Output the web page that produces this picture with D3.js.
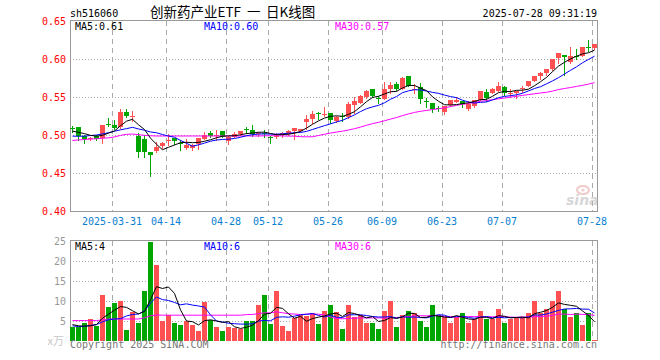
<!DOCTYPE html>
<html><head><meta charset="utf-8">
<script src="https://cdn.jsdelivr.net/npm/d3@7"></script>
<style>body{margin:0;background:#fff}svg{display:block}</style>
</head><body><svg id="c" width="660" height="360"></svg>
<script>
// ---------- data ----------
const dates = ["03-20","03-21","03-24","03-25","03-26","03-27","03-28","03-31",
"04-01","04-02","04-03","04-07","04-08","04-09","04-10","04-11","04-14","04-15","04-16","04-17","04-18","04-21","04-22","04-23","04-24","04-25","04-28","04-29","04-30",
"05-06","05-07","05-08","05-09","05-12","05-13","05-14","05-15","05-16","05-19","05-20","05-21","05-22","05-23","05-26","05-27","05-28","05-29","05-30",
"06-03","06-04","06-05","06-06","06-09","06-10","06-11","06-12","06-13","06-16","06-17","06-18","06-19","06-20","06-23","06-24","06-25","06-26","06-27","06-30",
"07-01","07-02","07-03","07-04","07-07","07-08","07-09","07-10","07-11","07-14","07-15","07-16","07-17","07-18","07-21","07-22","07-23","07-24","07-25","07-28"];
const open = [0.5092,0.5101,0.4987,0.4950,0.4987,0.4967,0.5145,0.5138,0.5101,0.5303,
0.5250,0.4993,0.4943,0.4776,0.4789,0.4855,0.4930,0.4957,0.4897,0.4833,
0.4829,0.4879,0.4951,0.5030,0.4987,0.5049,0.4925,0.4978,0.5013,0.5080,
0.5066,0.5020,0.5028,0.4978,0.4986,0.5018,0.5009,0.5057,0.5057,0.5167,
0.5211,0.5285,0.5263,0.5283,0.5188,0.5245,0.5243,0.5395,0.5425,0.5504,
0.5605,0.5490,0.5474,0.5601,0.5667,0.5605,0.5776,0.5600,0.5628,0.5445,
0.5421,0.5358,0.5307,0.5391,0.5437,0.5447,0.5338,0.5382,0.5461,0.5563,
0.5557,0.5579,0.5638,0.5551,0.5549,0.5613,0.5645,0.5711,0.5776,0.5820,
0.5864,0.6013,0.6053,0.5964,0.6046,0.6039,0.6158,0.6141];
const high = [0.5118,0.5105,0.4995,0.4975,0.5000,0.5135,0.5224,0.5191,0.5342,0.5342,
0.5320,0.5022,0.4996,0.4780,0.4914,0.4905,0.5011,0.4962,0.4934,0.4947,
0.4880,0.4962,0.5033,0.5059,0.5066,0.5055,0.4985,0.5043,0.5055,0.5101,
0.5132,0.5043,0.5066,0.4985,0.5030,0.5043,0.5060,0.5095,0.5085,0.5263,
0.5312,0.5307,0.5372,0.5293,0.5250,0.5293,0.5438,0.5496,0.5520,0.5590,
0.5610,0.5513,0.5693,0.5701,0.5691,0.5767,0.5780,0.5671,0.5678,0.5483,
0.5425,0.5382,0.5382,0.5465,0.5504,0.5450,0.5451,0.5465,0.5585,0.5609,
0.5615,0.5700,0.5645,0.5609,0.5585,0.5649,0.5715,0.5780,0.5825,0.5870,
0.6000,0.6080,0.6055,0.6162,0.6128,0.6160,0.6250,0.6200];
const low = [0.5043,0.4934,0.4901,0.4940,0.4940,0.4901,0.5118,0.5080,0.5095,0.5233,
0.5184,0.4714,0.4714,0.4467,0.4780,0.4825,0.4868,0.4882,0.4803,0.4822,
0.4809,0.4816,0.4945,0.4970,0.4934,0.4970,0.4882,0.4972,0.5005,0.5030,
0.4987,0.4991,0.4978,0.4899,0.4957,0.4978,0.5000,0.4943,0.5050,0.5075,
0.5162,0.5211,0.5255,0.5154,0.5171,0.5188,0.5228,0.5286,0.5420,0.5483,
0.5504,0.5425,0.5470,0.5557,0.5595,0.5600,0.5640,0.5559,0.5425,0.5372,
0.5303,0.5316,0.5276,0.5385,0.5432,0.5364,0.5330,0.5364,0.5455,0.5443,
0.5550,0.5575,0.5522,0.5504,0.5483,0.5570,0.5640,0.5705,0.5733,0.5786,
0.5860,0.5951,0.5789,0.5951,0.5996,0.6033,0.6109,0.6135];
const close = [0.5084,0.4987,0.4947,0.4958,0.4951,0.5132,0.5136,0.5088,0.5303,0.5250,
0.5256,0.4776,0.4776,0.4737,0.4842,0.4899,0.4938,0.4925,0.4891,0.4868,
0.4872,0.4957,0.5000,0.4991,0.4995,0.4978,0.4978,0.5013,0.5049,0.5074,
0.5017,0.5026,0.5022,0.4961,0.4992,0.5024,0.5053,0.5088,0.5079,0.5211,
0.5272,0.5280,0.5270,0.5197,0.5243,0.5238,0.5408,0.5451,0.5513,0.5583,
0.5517,0.5484,0.5605,0.5658,0.5601,0.5750,0.5645,0.5605,0.5480,0.5440,
0.5342,0.5353,0.5378,0.5461,0.5467,0.5408,0.5408,0.5461,0.5579,0.5491,
0.5609,0.5645,0.5549,0.5557,0.5579,0.5620,0.5711,0.5776,0.5820,0.5864,
0.5996,0.6075,0.6030,0.6039,0.6040,0.6154,0.6150,0.6197];
const volume = [3.45,3.5,4.45,5.45,3.7,11.4,8.6,9.4,9.95,2.7,
7.2,4.6,12.45,24.7,18.95,4.95,6.45,4.4,4.1,5.1,
4.1,2.4,9.7,5.2,3.6,2.4,3.4,3.25,3.05,5.1,
4.95,9.1,11.4,4.15,12.45,3.65,2.4,5.85,6.45,6.3,
7.05,4.15,7.4,8.9,7.3,2.9,9.1,6.1,6.4,4.4,
4.6,2.9,7.4,9.95,3.4,6.4,7.6,7.1,4.9,3.6,
8.9,6.6,5.9,4.4,5.9,6.9,4.4,5.4,7.4,5.4,
5.4,8.1,4.6,5.4,5.9,5.9,7.1,9.9,7.1,8.1,
9.9,12.6,8.1,5.9,6.9,4.1,6.9,0.35];
// moving-average values before a full window is available
const priceMa5Lead = [0.5050,0.5035,0.5018,0.4995];
const priceMa10Lead = [0.4985,0.4983,0.4985,0.4993,0.5000,0.5015,0.5030,0.5050,0.5068];
const priceMa30Lead = [0.4928,0.4935,0.4940,0.4947,0.4950,0.4958,0.4962,0.4975,0.4995,0.5009,
0.5012,0.5005,0.4995,0.4990,0.4987,0.4987,0.4987,0.4987,0.4987,0.4987,
0.4987,0.4987,0.4987,0.4987,0.4987,0.4987,0.4987,0.4987,0.4987];
const volMa5Lead = [4.1,3.8,3.7,3.8];
const volMa10Lead = [3.8,3.6,3.7,3.9,4.1,4.8,5.3,5.5,5.6];
const volMa30Lead = [5.1,5.1,5.1,5.1,5.1,5.3,5.5,5.5,5.5,5.5,
5.5,5.5,5.8,6.3,6.5,6.45,6.45,6.45,6.45,6.45,
6.45,6.45,6.45,6.45,6.45,6.45,6.45,6.45,6.45];
const priceTicks = [0.40,0.45,0.50,0.55,0.60,0.65];
const priceTickLabels = ["0.40","0.45","0.50","0.55","0.60","0.65"];
const volTicks = [5,10,15,20,25];
const volTickLabels = ["5","10","15","20","25"];
const dateTicks = ["03-31","04-14","04-28","05-12","05-26","06-09","06-23","07-07","07-28"];
const dateTickLabels = ["2025-03-31","04-14","04-28","05-12","05-26","06-09","06-23","07-07","07-28"];
const symbol = "sh516060";
const titleParts = ["创新药产业ETF", "一", "日K线图"];
const stamp = "2025-07-28 09:31:19";
const priceLegend = ["MA5:0.61","MA10:0.60","MA30:0.57"];
const volLegend = ["MA5:4","MA10:6","MA30:6"];

// ---------- helpers ----------
function movingAvg(arr, n, lead){
  return arr.map((v,i)=> i < n-1 ? lead[i] : d3.mean(arr.slice(i-n+1, i+1)));
}
const RED="#ff5151", GREEN="#00a600", BLUE="#0000ff", MAG="#ff00ff", GRID="#aaaaaa", FRAME="#999999";
const MONO="'DejaVu Sans Mono', monospace";

const svg = d3.select("#c");
const L=70, R=597;
const x = d3.scaleBand().domain(dates).range([70, 70+6*dates.length-1]).paddingInner(1/6).paddingOuter(0);
const cx = d => Math.round(x(d)) + 2.5;
const y = d3.scaleLinear().domain([0.40,0.65]).range([211,21]);
const yv = d3.scaleLinear().domain([0,25]).range([341,241]);

// ---------- grid ----------
const g = svg.append("g").attr("shape-rendering","crispEdges");
g.selectAll(".hg").data(priceTicks.slice(1,-1)).join("line")
  .attr("x1",L).attr("x2",R).attr("y1",d=>Math.round(y(d))+0.5).attr("y2",d=>Math.round(y(d))+0.5)
  .attr("stroke",GRID).attr("stroke-dasharray","1,2");
g.selectAll(".hv").data(volTicks.slice(0,-1)).join("line")
  .attr("x1",L).attr("x2",R).attr("y1",d=>Math.round(yv(d))+0.5).attr("y2",d=>Math.round(yv(d))+0.5)
  .attr("stroke",GRID).attr("stroke-dasharray","1,2");
dateTicks.forEach(d=>{
  const xx = Math.round(x(d))+0.5;
  g.append("line").attr("x1",xx).attr("x2",xx).attr("y1",21).attr("y2",211).attr("stroke",GRID).attr("stroke-dasharray","5,4");
  g.append("line").attr("x1",xx).attr("x2",xx).attr("y1",241).attr("y2",341).attr("stroke",GRID).attr("stroke-dasharray","5,4");
});
// frames
g.append("path").attr("d",`M${L+0.5},20.5H${R+0.5}V211.5H${L+0.5}Z`).attr("fill","none").attr("stroke",FRAME);
g.append("path").attr("d",`M${L+0.5},341V240.5H${R+0.5}V341`).attr("fill","none").attr("stroke",FRAME);

// ---------- candles ----------
const idx = d3.range(dates.length);
const col = i => close[i] >= open[i] ? RED : GREEN;
const cg = svg.append("g").attr("shape-rendering","crispEdges");
cg.selectAll(".wick").data(idx).join("line")
  .attr("x1",i=>cx(dates[i])).attr("x2",i=>cx(dates[i]))
  .attr("y1",i=>Math.round(y(high[i]))).attr("y2",i=>Math.round(y(low[i]))+1)
  .attr("stroke",col);
cg.selectAll(".body").data(idx).join("rect")
  .attr("x",i=>Math.round(x(dates[i])))
  .attr("width",5)
  .attr("y",i=>Math.round(y(Math.max(open[i],close[i]))))
  .attr("height",i=>Math.max(1, Math.round(y(Math.min(open[i],close[i]))) - Math.round(y(Math.max(open[i],close[i])))))
  .attr("fill",col);

// ---------- volume ----------
cg.selectAll(".vol").data(idx).join("rect")
  .attr("x",i=>Math.round(x(dates[i])))
  .attr("width",5)
  .attr("y",i=>Math.round(yv(volume[i])))
  .attr("height",i=>341-Math.round(yv(volume[i])))
  .attr("fill",col);

// ---------- moving averages ----------
const pm = [movingAvg(close,5,priceMa5Lead), movingAvg(close,10,priceMa10Lead), movingAvg(close,30,priceMa30Lead)];
const vm = [movingAvg(volume,5,volMa5Lead), movingAvg(volume,10,volMa10Lead), movingAvg(volume,30,volMa30Lead)];
const maCols = ["#000000", BLUE, MAG];
const lineP = arr => d3.line().x((v,i)=>cx(dates[i])).y(v=>y(v))(arr);
const lineV = arr => d3.line().x((v,i)=>cx(dates[i])).y(v=>yv(v))(arr);
[2,1,0].forEach(k=>{
  svg.append("path").attr("d",lineP(pm[k])).attr("fill","none").attr("stroke",maCols[k]).attr("stroke-width",1);
  svg.append("path").attr("d",lineV(vm[k])).attr("fill","none").attr("stroke",maCols[k]).attr("stroke-width",1);
});

// ---------- texts ----------
const t = svg.append("g").attr("font-family",MONO).attr("font-size","10px");
t.append("text").attr("x",70).attr("y",16.5).attr("fill","#000").text(symbol);
t.append("text").attr("x",597).attr("y",16.5).attr("text-anchor","end").attr("fill","#000").text(stamp);
const tt = svg.append("g").attr("font-family","'Noto Sans CJK SC', sans-serif").attr("font-size","13.5px").attr("fill","#000");
tt.append("text").attr("x",150).attr("y",17).text(titleParts[0]);
tt.append("text").attr("x",247).attr("y",17).text(titleParts[1]);
tt.append("text").attr("x",266).attr("y",17).text(titleParts[2]);
const legX = [75,204,335];
priceLegend.forEach((s,k)=> t.append("text").attr("x",legX[k]).attr("y",29.5).attr("fill",maCols[k]).text(s));
volLegend.forEach((s,k)=> t.append("text").attr("x",legX[k]).attr("y",250).attr("fill",maCols[k]).text(s));
priceTicks.forEach((v,k)=> t.append("text").attr("x",66).attr("y",y(v)).attr("dy","0.35em").attr("text-anchor","end").attr("fill","#ff0000").text(priceTickLabels[k]));
volTicks.forEach((v,k)=> t.append("text").attr("x",66).attr("y",yv(v)).attr("dy","0.35em").attr("text-anchor","end").attr("fill","#999999").text(volTickLabels[k]));
dateTicks.forEach((d,k)=> t.append("text").attr("x",Math.round(x(d))).attr("y",225).attr("text-anchor","middle").attr("fill","#0a80d0").text(dateTickLabels[k]));
svg.append("text").attr("x",64).attr("y",345).attr("text-anchor","end").attr("font-family","'Noto Sans CJK SC', sans-serif").attr("font-size","11px").attr("fill","#c8c8c8").text("x万");
t.append("text").attr("x",70).attr("y",348).attr("fill","#777").text("Copyright 2025 SINA.COM");
t.append("text").attr("x",597).attr("y",348).attr("text-anchor","end").attr("fill","#777").text("http://finance.sina.com.cn");
// watermark
const wm = svg.append("g").attr("opacity",0.55);
wm.append("ellipse").attr("cx",583).attr("cy",190).attr("rx",6).attr("ry",4).attr("fill","none").attr("stroke","#e6a0a0").attr("stroke-width",2);
wm.append("circle").attr("cx",583).attr("cy",190).attr("r",1.6).attr("fill","#e6a0a0");
wm.append("text").attr("x",566).attr("y",205).attr("font-family","'DejaVu Sans', sans-serif").attr("font-size","14px").attr("font-weight","bold").attr("font-style","italic").attr("fill","#b8b8b8").text("sina");
</script></body></html>
